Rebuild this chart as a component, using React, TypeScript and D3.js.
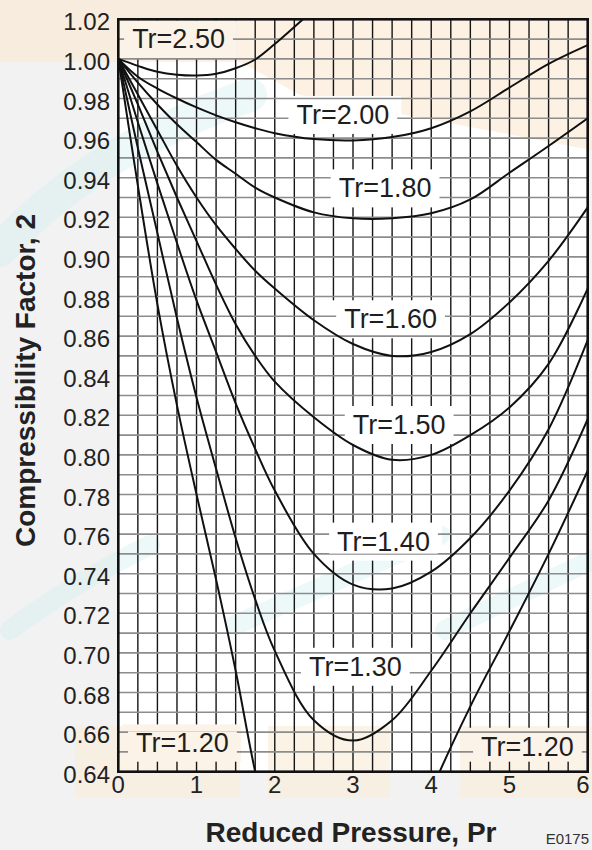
import React, { useEffect, useRef } from 'react';
import * as d3 from 'd3';

// Reduced pressure sample points shared by every isotherm
const PR = [0, 0.25, 0.5, 0.75, 1, 1.25, 1.5, 1.75, 2, 2.5, 3, 3.5, 4, 4.5, 5, 5.5, 6];

// Compressibility factor Z along each reduced-temperature curve (null = off the chart)
const Z_TR_250 = [1.0, 0.9965, 0.9935, 0.992, 0.9916, 0.9925, 0.9953, 0.9997, 1.0075, 1.025, null, null, null, null, null, null, null];
const Z_TR_200 = [1.0, 0.991, 0.985, 0.98, 0.9755, 0.9715, 0.968, 0.965, 0.9625, 0.9595, 0.9588, 0.9605, 0.965, 0.9735, 0.9855, 0.9975, 1.007];
const Z_TR_180 = [1.0, 0.988, 0.977, 0.967, 0.958, 0.949, 0.942, 0.935, 0.93, 0.9225, 0.9195, 0.9195, 0.922, 0.929, 0.9425, 0.956, 0.97];
const Z_TR_160 = [1.0, 0.982, 0.964, 0.946, 0.93, 0.916, 0.904, 0.893, 0.884, 0.868, 0.856, 0.85, 0.852, 0.861, 0.877, 0.898, 0.925];
const Z_TR_150 = [1.0, 0.977, 0.953, 0.93, 0.908, 0.886, 0.866, 0.85, 0.837, 0.819, 0.805, 0.7975, 0.8, 0.81, 0.824, 0.846, 0.884];
const Z_TR_140 = [1.0, 0.968, 0.937, 0.907, 0.878, 0.852, 0.826, 0.803, 0.782, 0.75, 0.7345, 0.7325, 0.741, 0.758, 0.782, 0.813, 0.858];
const Z_TR_130 = [1.0, 0.955, 0.912, 0.869, 0.829, 0.793, 0.758, 0.727, 0.701, 0.666, 0.6557, 0.666, 0.691, 0.72, 0.748, 0.777, 0.818];
const Z_TR_120 = [1.0, 0.936, 0.876, 0.825, 0.78, 0.737, 0.691, 0.64, 0.6, 0.56, 0.55, 0.575, 0.63, 0.673, 0.711, 0.75, 0.792];

const SERIES = [Z_TR_250, Z_TR_200, Z_TR_180, Z_TR_160, Z_TR_150, Z_TR_140, Z_TR_130, Z_TR_120];

// Curve labels and where their text sits (in data units)
const LABEL_TEXT = ['Tr=2.50', 'Tr=2.00', 'Tr=1.80', 'Tr=1.60', 'Tr=1.50', 'Tr=1.40', 'Tr=1.30', 'Tr=1.20', 'Tr=1.20'];
const LABEL_PR = [0.77, 2.87, 3.41, 3.48, 3.59, 3.39, 3.03, 0.82, 5.23];
const LABEL_Z = [1.01, 0.9717, 0.9346, 0.8685, 0.8151, 0.7562, 0.693, 0.6543, 0.6526];

// Axis ticks
const X_TICKS = [0, 1, 2, 3, 4, 5, 6];
const Y_TICKS = [0.64, 0.66, 0.68, 0.7, 0.72, 0.74, 0.76, 0.78, 0.8, 0.82, 0.84, 0.86, 0.88, 0.9, 0.92, 0.94, 0.96, 0.98, 1.0, 1.02];

const W = 592;
const H = 850;
const FONT = '"Liberation Sans", Arial, sans-serif';

const App = () => {
    const ref = useRef<SVGSVGElement | null>(null);

    useEffect(() => {
        if (!ref.current) return;
        const svg = d3.select(ref.current);
        svg.selectAll('*').remove();

        const left = 118.3, right = 587.7, top = 19.3, bottom = 771.7;
        const x = d3.scaleLinear().domain([0, 6]).range([left, right]);
        const y = d3.scaleLinear().domain([0.64, 1.02]).range([bottom, top]);

        svg.append('defs').append('clipPath').attr('id', 'plot-clip')
            .append('rect').attr('x', left).attr('y', top)
            .attr('width', right - left).attr('height', bottom - top);

        // page + faint watermark behind the chart
        svg.append('rect').attr('width', W).attr('height', H).attr('fill', '#f2f2f2');
        svg.append('rect').attr('x', left).attr('y', top)
            .attr('width', right - left).attr('height', bottom - top).attr('fill', '#ffffff');
        const wm = svg.append('g');
        wm.append('polygon')
            .attr('points', '0,0 592,0 592,150 300,95 240,62 0,62')
            .attr('fill', '#fbe8d2').attr('opacity', 0.6);
        [[75, 726, 165, 72], [268, 726, 122, 72], [460, 726, 132, 72]].forEach(([rx, ry, rw, rh]) => {
            wm.append('rect').attr('x', rx).attr('y', ry).attr('width', rw).attr('height', rh)
                .attr('fill', '#fbeedd').attr('opacity', 0.7);
        });
        ['M 0 250 Q 90 150 250 95', 'M 10 630 Q 70 585 150 545', 'M 235 625 L 440 535', 'M 445 630 L 592 560']
            .forEach((d, i) => {
                wm.append('path').attr('d', d).attr('fill', 'none')
                    .attr('stroke', '#d3f0ef').attr('stroke-width', i === 0 ? 34 : 20)
                    .attr('stroke-linecap', 'round').attr('opacity', 0.4);
            });

        const gV = svg.append('g');
        const gBox = svg.append('g');
        const gH = svg.append('g');
        const gMask = svg.append('g');
        const gCurve = svg.append('g').attr('clip-path', 'url(#plot-clip)');
        const gLab = svg.append('g');
        const gAxis = svg.append('g');

        // vertical grid every 0.25
        d3.range(1, 24).forEach(i => {
            const xv = x(i * 0.25);
            gV.append('line').attr('x1', xv).attr('x2', xv).attr('y1', top).attr('y2', bottom)
                .attr('stroke', '#151515').attr('stroke-width', 1.4);
        });
        // horizontal grid every 0.01
        d3.range(1, 38).forEach(i => {
            const yv = y(0.64 + i * 0.01);
            gH.append('line').attr('x1', left).attr('x2', right).attr('y1', yv).attr('y2', yv)
                .attr('stroke', '#8c8c8c').attr('stroke-width', 1.6);
        });

        // isotherms
        const line = d3.line<[number, number | null]>()
            .defined(d => d[1] != null)
            .x(d => x(d[0]))
            .y(d => y(d[1] as number))
            .curve(d3.curveCatmullRom.alpha(0.5));
        SERIES.forEach(zs => {
            gCurve.append('path')
                .attr('d', line(PR.map((p, i) => [p, zs[i]] as [number, number | null])))
                .attr('fill', 'none').attr('stroke', '#111').attr('stroke-width', 2);
        });

        // curve labels with knock-out boxes
        LABEL_TEXT.forEach((t, i) => {
            const cx = x(LABEL_PR[i]);
            const cy = y(LABEL_Z[i]);
            const txt = gLab.append('text').attr('x', cx).attr('y', cy)
                .attr('text-anchor', 'middle').attr('dominant-baseline', 'central')
                .attr('font-family', FONT).attr('font-size', 27).attr('fill', '#1e1e1e').text(t);
            const bb = (txt.node() as SVGTextElement).getBBox();
            const peach = i === 0 || i >= 7;
            const bx0 = Math.max(left + 1.5, bb.x - 14);
            const bx1 = Math.min(right - 1.5, bb.x + bb.width + 12);
            gBox.append('rect').attr('x', bx0).attr('y', Math.max(top + 1, cy - 19))
                .attr('width', bx1 - bx0).attr('height', Math.min(38, bottom - 10 - (cy - 19)))
                .attr('fill', peach ? '#fcf3e8' : '#ffffff');
            gMask.append('rect').attr('x', bb.x - 8).attr('y', cy - 12)
                .attr('width', bb.width + 16).attr('height', 24)
                .attr('fill', peach ? '#fcf3e8' : '#ffffff');
        });

        // tick labels
        Y_TICKS.forEach(v => {
            gAxis.append('text').attr('x', 110).attr('y', y(v) + 2.5)
                .attr('text-anchor', 'end').attr('dominant-baseline', 'central')
                .attr('font-family', FONT).attr('font-size', 24).attr('fill', '#222')
                .text(v.toFixed(2));
        });
        X_TICKS.forEach(v => {
            // the last label would run past the page edge, so nudge it inwards
            const xv = Math.min(x(v), W - 9);
            gAxis.append('text').attr('x', xv).attr('y', 784)
                .attr('text-anchor', 'middle').attr('dominant-baseline', 'central')
                .attr('font-family', FONT).attr('font-size', 24).attr('fill', '#222')
                .text(String(v));
        });

        // frame
        gAxis.append('rect').attr('x', left).attr('y', top)
            .attr('width', right - left).attr('height', bottom - top)
            .attr('fill', 'none').attr('stroke', '#111').attr('stroke-width', 2.6);

        // titles
        gAxis.append('text').attr('x', 351).attr('y', 842)
            .attr('text-anchor', 'middle').attr('font-family', FONT)
            .attr('font-size', 28).attr('font-weight', 'bold').attr('fill', '#222')
            .text('Reduced Pressure, Pr');
        gAxis.append('text').attr('transform', 'translate(35,380.5) rotate(-90)')
            .attr('text-anchor', 'middle').attr('font-family', FONT)
            .attr('font-size', 28).attr('font-weight', 'bold').attr('fill', '#222')
            .text('Compressibility Factor, 2');
        gAxis.append('text').attr('x', 589).attr('y', 844)
            .attr('text-anchor', 'end').attr('font-family', FONT)
            .attr('font-size', 15).attr('fill', '#333').text('E0175');
    }, []);

    return (
        <svg ref={ref} width={W} height={H}
            style={{ position: 'absolute', left: 0, top: 0, display: 'block' }} />
    );
};

export default App;
